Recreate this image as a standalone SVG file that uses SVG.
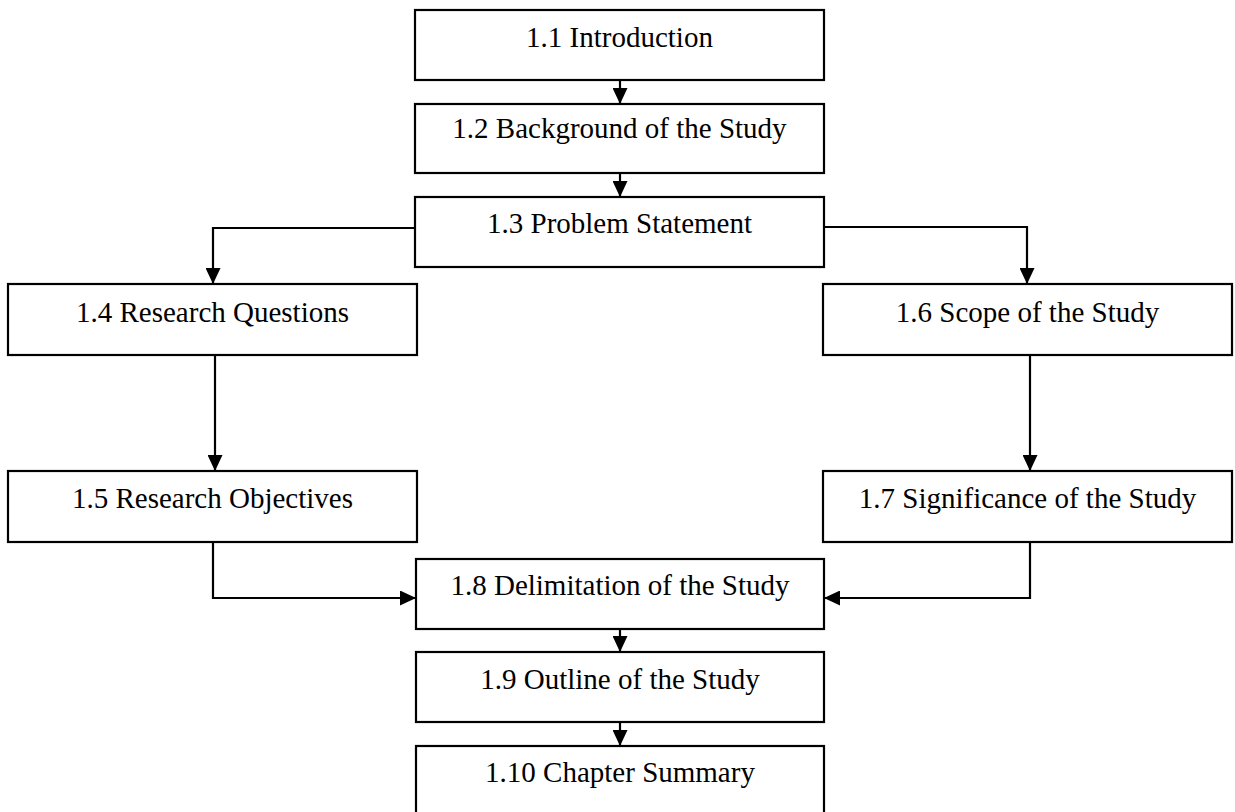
<svg xmlns="http://www.w3.org/2000/svg" width="1235" height="812" viewBox="0 0 1235 812">
<style>
.box{fill:#fff;stroke:#000;stroke-width:2.2}
.lbl{font-family:"Liberation Serif","Times New Roman",serif;font-size:29px;fill:#000;text-anchor:middle}
.con{fill:none;stroke:#000;stroke-width:2.2;marker-end:url(#ah)}
</style>
<defs>
<marker id="ah" viewBox="0 0 16 15" refX="16" refY="7.5" markerWidth="16" markerHeight="15" markerUnits="userSpaceOnUse" orient="auto">
<path d="M0,0 L16,7.5 L0,15 Z" fill="#000"/>
</marker>
</defs>
<rect width="1235" height="812" fill="#fff"/>
<g id="connectors">
<path class="con" d="M620,80 V104"/>
<path class="con" d="M620,173 V197"/>
<path class="con" d="M416,228 H213 V284"/>
<path class="con" d="M824,227 H1027 V284"/>
<path class="con" d="M215,355 V471"/>
<path class="con" d="M1030,355 V471"/>
<path class="con" d="M213,542 V598 H416"/>
<path class="con" d="M1030,542 V598 H824"/>
<path class="con" d="M620,629 V652"/>
<path class="con" d="M620,722 V746"/>
</g>
<g id="n1"><rect class="box" x="415" y="10" width="409" height="70"/><text class="lbl" x="619.5" y="47">1.1 Introduction</text></g>
<g id="n2"><rect class="box" x="415" y="104" width="409" height="69"/><text class="lbl" x="619.5" y="138">1.2 Background of the Study</text></g>
<g id="n3"><rect class="box" x="415" y="197" width="409" height="70"/><text class="lbl" x="619.5" y="233">1.3 Problem Statement</text></g>
<g id="n4"><rect class="box" x="8" y="284" width="409" height="71"/><text class="lbl" x="212.5" y="322">1.4 Research Questions</text></g>
<g id="n5"><rect class="box" x="8" y="471" width="409" height="71"/><text class="lbl" x="212.5" y="508">1.5 Research Objectives</text></g>
<g id="n6"><rect class="box" x="823" y="284" width="409" height="71"/><text class="lbl" x="1027.5" y="322">1.6 Scope of the Study</text></g>
<g id="n7"><rect class="box" x="823" y="471" width="409" height="71"/><text class="lbl" x="1027.5" y="508">1.7 Significance of the Study</text></g>
<g id="n8"><rect class="box" x="416" y="559" width="408" height="70"/><text class="lbl" x="620" y="595">1.8 Delimitation of the Study</text></g>
<g id="n9"><rect class="box" x="416" y="652" width="408" height="70"/><text class="lbl" x="620" y="689">1.9 Outline of the Study</text></g>
<g id="n10"><rect class="box" x="416" y="746" width="408" height="70"/><text class="lbl" x="620" y="782">1.10 Chapter Summary</text></g>
</svg>
